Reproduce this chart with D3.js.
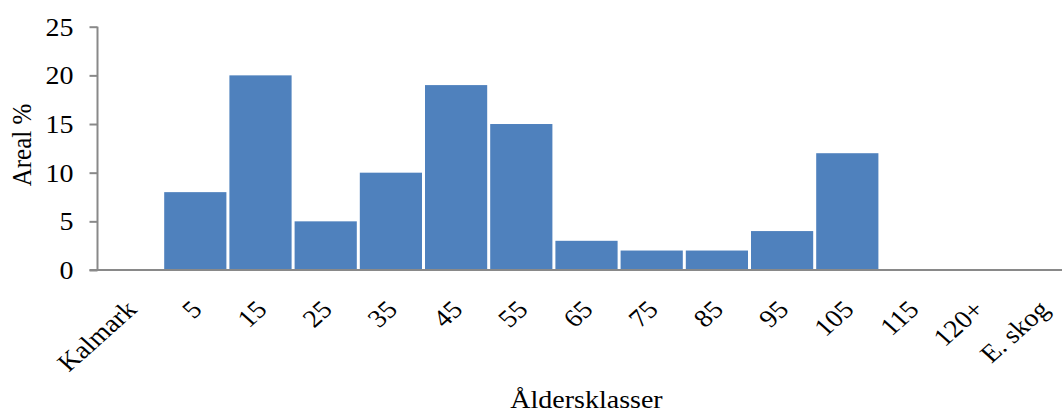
<!DOCTYPE html>
<html>
<head>
<meta charset="utf-8">
<script src="https://cdn.jsdelivr.net/npm/d3@7"></script>
<style>
	body { margin: 0; background: #fff; }
	text { font-family: 'Liberation Serif', 'Times New Roman', serif; fill: #000; }
</style>
</head>
<body>
<div id="chart"></div>
<script>
const categories = ['Kalmark', '5', '15', '25', '35', '45', '55', '65', '75', '85', '95', '105', '115', '120+', 'E. skog'];
const values = [0, 8, 20, 5, 10, 19, 15, 3, 2, 2, 4, 12, 0, 0, 0];
const yTicks = [0, 5, 10, 15, 20, 25];

const W = 1062, H = 414;
const margin = { top: 26.7, left: 97.5 };
const plotRight = 1075.5, plotBottom = 270;
// the original picture is a little wider than tall, so text is stretched sideways
const sx = 1.12;

const svg = d3.select('#chart')
	.append('svg')
	.attr('width', W)
	.attr('height', H);

const x = d3.scaleBand()
	.domain(categories)
	.range([margin.left, plotRight])
	.paddingInner(0.046)
	.paddingOuter(0.023);

const y = d3.scaleLinear()
	.domain([0, 25])
	.range([plotBottom, margin.top]);

const axisColor = '#898989';

// bars
svg.append('g')
	.selectAll('rect')
	.data(values)
	.enter()
	.append('rect')
	.attr('x', (d, i) => x(categories[i]))
	.attr('y', d => y(d))
	.attr('width', x.bandwidth())
	.attr('height', d => plotBottom - y(d))
	.style('fill', '#4f81bd');

// y axis
const yAxis = d3.axisLeft(y).tickValues(yTicks).tickSize(8).tickFormat(d3.format('d'));
const yG = svg.append('g')
	.attr('transform', 'translate(' + margin.left + ',0)')
	.call(yAxis);
yG.select('.domain').attr('stroke', axisColor).attr('stroke-width', 2).attr('d', 'M0,' + margin.top + 'V' + plotBottom);
yG.selectAll('.tick line').attr('stroke', axisColor).attr('stroke-width', 2);
yG.selectAll('.tick text')
	.attr('x', null)
	.attr('transform', 'translate(-24,0) scale(' + sx + ',1)')
	.attr('dy', '0.34em')
	.style('font-size', '25px');

// x axis line
svg.append('line')
	.attr('x1', margin.left - 8)
	.attr('x2', W)
	.attr('y1', plotBottom)
	.attr('y2', plotBottom)
	.attr('stroke', axisColor)
	.attr('stroke-width', 2);

// x tick labels
svg.append('g')
	.selectAll('text')
	.data(categories)
	.enter()
	.append('text')
	.attr('text-anchor', 'end')
	.attr('transform', d => 'translate(' + (x(d) + x.bandwidth() / 2 + 8) + ',' + (plotBottom + 41) + ') scale(' + sx + ',1) rotate(-45)')
	.style('font-size', '25px')
	.text(d => d);

// axis titles
svg.append('text')
	.attr('text-anchor', 'middle')
	.attr('transform', 'translate(31,' + 145 + ') scale(' + sx + ',1) rotate(-90)')
	.style('font-size', '25px')
	.text('Areal %');

svg.append('text')
	.attr('text-anchor', 'middle')
	.attr('transform', 'translate(' + ((margin.left + plotRight) / 2) + ',408) scale(' + sx + ',1)')
	.style('font-size', '25px')
	.text('Åldersklasser');
</script>
</body>
</html>
